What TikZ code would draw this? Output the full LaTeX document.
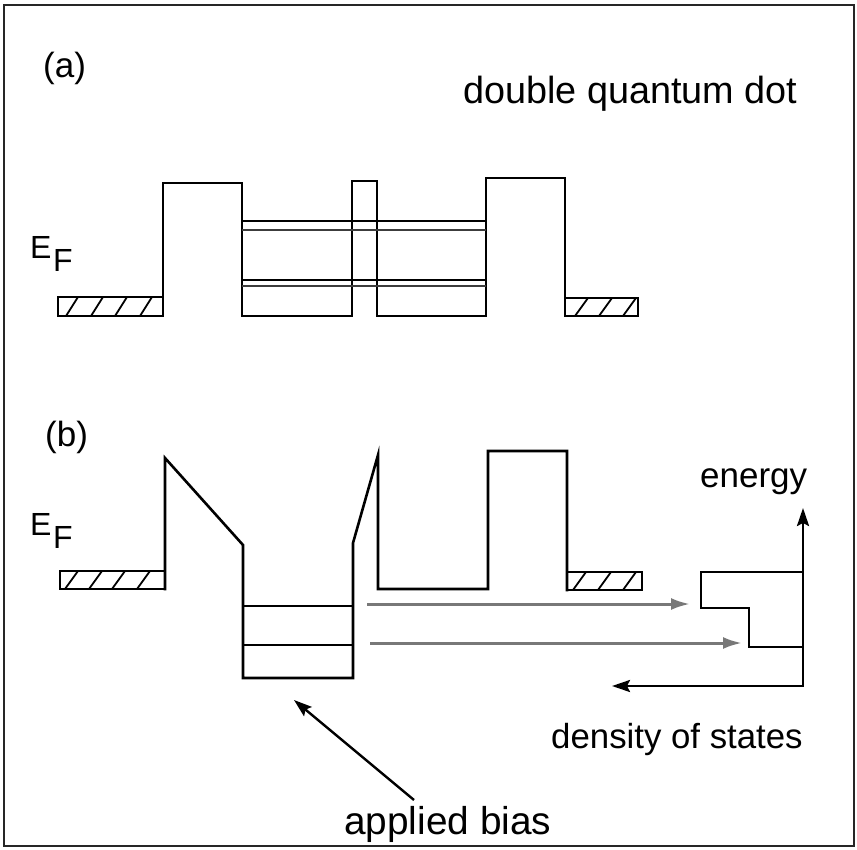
\documentclass[tikz,border=0pt]{standalone}
\usepackage{fontspec}
\setmainfont{Liberation Sans}
\usetikzlibrary{arrows.meta}
\definecolor{arrowgray}{RGB}{120,120,120}
\definecolor{levelgray}{RGB}{60,60,60}
\begin{document}
\begin{tikzpicture}[x=1pt,y=-1pt,
  band/.style={line width=2.6pt,line join=miter,line cap=rect},
  hatchln/.style={line width=1.8pt},
  lvl/.style={line width=2.6pt},
  lvlb/.style={line width=2.3pt,levelgray},
  flow/.style={line width=3pt,arrowgray,-{Latex[length=19pt,width=12pt]}},
  axisarr/.style={line width=2.6pt,{Stealth[length=18pt,width=12pt,inset=3pt]}-{Stealth[length=18pt,width=12pt,inset=3pt]}},
  biasarr/.style={line width=2.4pt,-{Stealth[length=18pt,width=12pt,inset=3pt]}},
  lbl/.style={inner sep=0pt,anchor=base west},
  big/.style={font=\fontsize{35}{40}\selectfont},
  ef/.style={font=\fontsize{32}{36}\selectfont},
]
\useasboundingbox (0,0) rectangle (857,849);
% frame
\draw[line width=2.5pt,black!85] (4,5) rectangle (854,846);

% ---------------- (a) ----------------
\node[lbl,big] (la) at (43,77) {(a)};
\node[lbl,font=\fontsize{37.8}{42}\selectfont] (dqd) at (463,103) {double quantum dot};
\node[lbl,ef] (Ea) at (30,258) {E};
\node[lbl,ef] (Fa) at (53,271) {F};

% leads
\draw[band] (58,297) rectangle (163,316);
\draw[band] (565,298) rectangle (638,316);
\foreach \x in {66,91,115,140} \draw[hatchln] (\x,316) -- (\x+12,297);
\foreach \x in {575,599,623} \draw[hatchln] (\x,316) -- (\x+13,298);
% band profile
\draw[band] (163,316) -- (163,183) -- (242,183) -- (242,316) -- (352,316)
  -- (352,181) -- (377,181) -- (377,316) -- (486,316) -- (486,178)
  -- (565,178) -- (565,316);
% levels
\draw[lvl] (242,221) -- (486,221);
\draw[lvlb] (242,230) -- (486,230);
\draw[lvl] (242,280) -- (486,280);
\draw[lvlb] (242,286) -- (486,286);

% ---------------- (b) ----------------
\node[lbl,big] (lb) at (45,446) {(b)};
\node[lbl,ef] (Eb) at (30,535) {E};
\node[lbl,ef] (Fb) at (53,548) {F};

\draw[band] (60,571) rectangle (165,589);
\draw[band] (567,572) rectangle (642,590);
\foreach \x in {65,89,112,137} \draw[hatchln] (\x,589) -- (\x+13,571);
\foreach \x in {573,598,623} \draw[hatchln] (\x,590) -- (\x+13,572);
\draw[band] (165,589) -- (165,458) -- (243,545) -- (243,678) -- (353,678)
  -- (353,543) -- (378,455) -- (378,589) -- (488,589) -- (488,451)
  -- (567,451) -- (567,590);
\draw[lvl] (243,606) -- (353,606);
\draw[lvl] (243,645) -- (353,645);

% transitions to density of states
\coordinate (f1s) at (367,604);
\coordinate (f1e) at (690,604);
\coordinate (f2s) at (370,643);
\coordinate (f2e) at (742,643);
\draw[flow] (f1s) -- (f1e);
\draw[flow] (f2s) -- (f2e);

% density of states axes
\coordinate (dosx) at (612,686);
\coordinate (doso) at (803,686);
\coordinate (dosy) at (803,508);
\draw[axisarr] (dosx) -- (doso) -- (dosy);
\draw[band] (803,572) -- (701,572) -- (701,608) -- (749,608) -- (749,647) -- (803,647);
\node[lbl,font=\fontsize{35}{40}\selectfont] (en) at (700,487) {energy};
\node[lbl,font=\fontsize{34.8}{40}\selectfont] (dos) at (551,748) {density of states};

% applied bias
\node[lbl,font=\fontsize{38.8}{42}\selectfont] (ab) at (344,834) {applied bias};
\coordinate (abt) at (414,800);
\coordinate (abh) at (294,700);
\draw[biasarr] (abt) -- (abh);
\end{tikzpicture}
\end{document}
